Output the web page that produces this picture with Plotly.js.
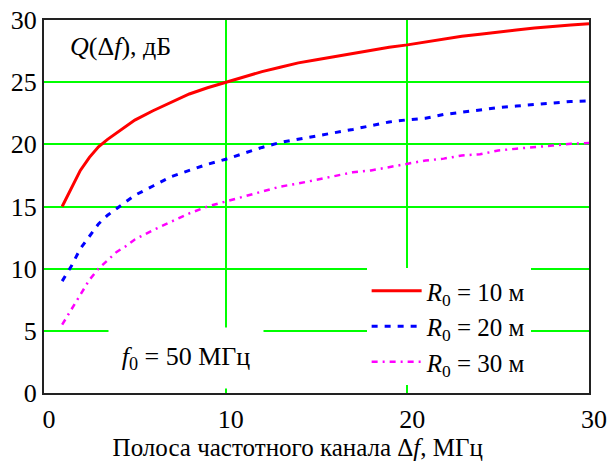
<!DOCTYPE html>
<html>
<head>
<meta charset="utf-8">
<script src="https://cdn.plot.ly/plotly-3.0.1.min.js"></script>
<style>html,body{margin:0;padding:0;background:#fff;}#chart{width:609px;height:462px;}</style>
</head>
<body>
<div id="chart"></div>
<script>
const df = [1, 1.5, 2, 2.5, 3, 3.5, 4, 4.5, 5, 6, 7, 8, 9, 10, 11, 12, 13, 14, 15, 16, 17, 18, 19, 20, 21, 22, 23, 24, 25, 26, 27, 28, 29, 30];
const qR10 = [15.0, 16.4, 17.9, 18.95, 19.8, 20.4, 20.9, 21.4, 21.95, 22.7, 23.4, 24.05, 24.55, 25.0, 25.45, 25.85, 26.2, 26.55, 26.8, 27.05, 27.35, 27.6, 27.8, 28.0, 28.25, 28.45, 28.7, 28.85, 29.05, 29.2, 29.35, 29.5, 29.6, 29.7];
const qR20 = [9.0, 10.2, 11.6, 12.6, 13.6, 14.3, 14.85, 15.4, 15.9, 16.65, 17.4, 17.9, 18.4, 18.8, 19.3, 19.75, 20.15, 20.4, 20.65, 20.9, 21.2, 21.5, 21.8, 21.97, 22.1, 22.4, 22.6, 22.75, 22.95, 23.08, 23.2, 23.35, 23.45, 23.5];
const qR30 = [5.5, 6.7, 8.0, 9.1, 10.0, 10.7, 11.35, 11.8, 12.35, 13.1, 13.8, 14.45, 15.0, 15.4, 15.85, 16.25, 16.6, 16.85, 17.15, 17.5, 17.75, 17.9, 18.15, 18.45, 18.7, 18.85, 19.1, 19.2, 19.5, 19.65, 19.75, 19.9, 20.05, 20.1];
const seriesNames = ["<i>R</i><sub>0</sub> = 10 м", "<i>R</i><sub>0</sub> = 20 м", "<i>R</i><sub>0</sub> = 30 м"];
const xTicks = [0, 10, 20, 30];
const yTicks = [0, 5, 10, 15, 20, 25, 30];

const FONT = "Liberation Serif";
const traces = [
  {x: df, y: qR10, name: seriesNames[0], mode: "lines", line: {color: "#ff0000", width: 3}},
  {x: df, y: qR20, name: seriesNames[1], mode: "lines", line: {color: "#0000ff", width: 3, dash: "6px,7px"}},
  {x: df, y: qR30, name: seriesNames[2], mode: "lines", line: {color: "#ff00ff", width: 2.5, dash: "6px,5px,2px,5px"}}
];
const layout = {
  width: 609, height: 462,
  margin: {l: 44, r: 20, t: 20, b: 69},
  paper_bgcolor: "#fff", plot_bgcolor: "#fff",
  font: {family: FONT, size: 25, color: "#000"},
  showlegend: true,
  legend: {x: 0.592, y: 0.335, xanchor: "left", yanchor: "top", bgcolor: "#fff", borderwidth: 0, itemwidth: 50,
           font: {family: FONT, size: 25, color: "#000"}, tracegroupgap: 0},
  xaxis: {range: [0, 30], tickvals: xTicks, ticktext: xTicks.map(String), showgrid: true, gridcolor: "#00ff00", gridwidth: 2,
          zeroline: false, showline: true, linecolor: "#222", linewidth: 2, mirror: true, ticks: "",
          tickfont: {family: FONT, size: 26, color: "#000"}, ticklabelshift: 5, ticklabelstandoff: 2,
          title: {text: "Полоса частотного канала Δ<i>f</i>, МГц&nbsp;&nbsp;&nbsp;&nbsp;&nbsp;&nbsp;", font: {family: FONT, size: 25, color: "#000"}, standoff: 4}},
  yaxis: {range: [0, 30], tickvals: yTicks, ticktext: yTicks.map(String), showgrid: true, gridcolor: "#00ff00", gridwidth: 2,
          zeroline: false, showline: true, linecolor: "#222", linewidth: 2, mirror: true, ticks: "",
          tickfont: {family: FONT, size: 26, color: "#000"}},
  annotations: [
    {xref: "paper", yref: "paper", x: 0.141, y: 0.93, xanchor: "center", yanchor: "middle", showarrow: false,
     text: "<i>Q</i>(Δ<i>f</i>), дБ", font: {family: FONT, size: 26, color: "#000"}},
    {xref: "paper", yref: "paper", x: 0.26, y: 0.093, xanchor: "center", yanchor: "middle", showarrow: false,
     width: 152, height: 58, bgcolor: "#fff",
     text: "<i>f</i><sub>0</sub> = 50 МГц", font: {family: FONT, size: 26, color: "#000"}}
  ]
};
Plotly.newPlot("chart", traces, layout, {displayModeBar: false, staticPlot: true});
</script>
</body>
</html>
